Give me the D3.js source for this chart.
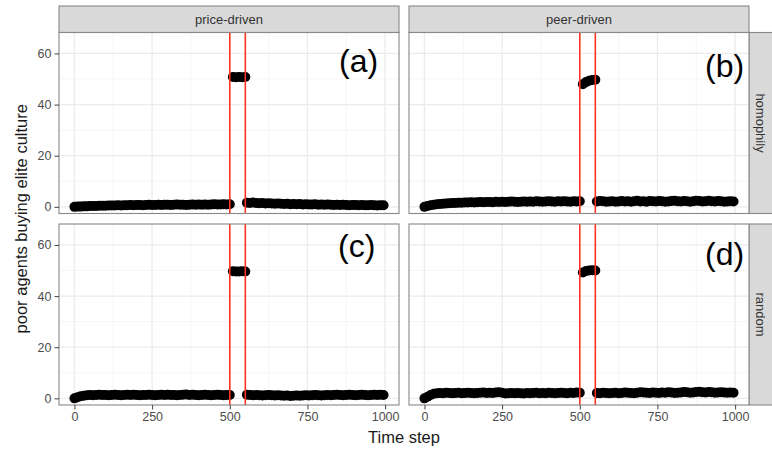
<!DOCTYPE html>
<html>
<head>
<meta charset="utf-8">
<script src="https://cdn.jsdelivr.net/npm/d3@7"></script>
<style>
  body { margin: 0; background: #fff; }
  svg { font-family: "Liberation Sans", Arial, sans-serif; }
</style>
</head>
<body>
<script>
// facets
var columns = ["price-driven", "peer-driven"];
var rows = ["homophily", "random"];
var tags = ["(a)", "(b)", "(c)", "(d)"];
var shockStart = 500, shockEnd = 550;

// time steps (sampled every 10 steps from the picture)
var stepsBefore = [0,10,20,30,40,50,60,70,80,90,100,110,120,130,140,150,160,170,180,190,
  200,210,220,230,240,250,260,270,280,290,300,310,320,330,340,350,360,370,380,390,
  400,410,420,430,440,450,460,470,480,490,500];
var stepsShock = [510,520,530,540,550];
var stepsAfter = [555,565,575,585,595,605,615,625,635,645,655,665,675,685,695,705,715,725,735,745,
  755,765,775,785,795,805,815,825,835,845,855,865,875,885,895,905,915,925,935,945,
  955,965,975,985,995];

// (a) price-driven / homophily
var priceHomophily = [
  0.0,0.1,0.1,0.2,0.2,0.3,0.3,0.3,0.4,0.4,
  0.4,0.5,0.5,0.5,0.6,0.5,0.6,0.6,0.7,0.6,
  0.7,0.7,0.6,0.7,0.8,0.7,0.7,0.8,0.7,0.8,
  0.8,0.7,0.8,0.9,0.8,0.8,0.7,0.8,0.9,0.8,
  0.9,0.8,0.9,0.8,0.9,1.0,0.9,0.9,1.0,0.9,
  1.0,
  50.8,50.7,50.8,50.7,50.8,
  1.6,1.5,1.7,1.5,1.4,1.5,1.3,1.4,1.3,1.2,
  1.3,1.2,1.1,1.2,1.0,1.1,1.0,1.1,0.9,1.0,
  0.9,0.9,1.0,0.8,0.9,0.8,0.9,0.8,0.7,0.8,
  0.7,0.8,0.7,0.6,0.7,0.7,0.6,0.7,0.6,0.6,
  0.7,0.6,0.5,0.6,0.6];

// (b) peer-driven / homophily
var peerHomophily = [
  0.0,0.3,0.6,0.8,1.0,1.1,1.2,1.3,1.4,1.5,
  1.5,1.6,1.6,1.7,1.7,1.8,1.7,1.8,1.9,1.8,
  1.9,1.9,1.8,2.0,1.9,2.0,1.9,2.0,2.1,2.0,
  1.9,2.0,2.1,2.0,2.1,2.0,2.2,2.1,2.0,2.1,
  2.2,2.1,2.0,2.2,2.1,2.2,2.1,2.0,2.2,2.1,
  2.2,
  48.0,48.8,49.3,49.6,49.7,
  2.1,2.3,2.2,2.0,2.1,2.2,2.0,2.1,2.3,2.1,
  2.2,2.0,2.2,2.4,2.1,2.2,2.0,2.3,2.2,2.1,
  2.3,2.2,2.0,2.1,2.3,2.4,2.2,2.1,2.3,2.2,
  2.0,2.2,2.4,2.3,2.1,2.2,2.4,2.2,2.1,2.3,
  2.2,2.0,2.1,2.2,2.1];

// (c) price-driven / random
var priceRandom = [
  0.0,0.4,0.8,1.0,1.2,1.3,1.2,1.3,1.4,1.3,
  1.3,1.2,1.3,1.4,1.3,1.2,1.3,1.4,1.3,1.4,
  1.3,1.2,1.3,1.3,1.4,1.3,1.2,1.3,1.4,1.3,
  1.4,1.3,1.3,1.2,1.3,1.4,1.5,1.3,1.4,1.3,
  1.2,1.3,1.4,1.3,1.2,1.3,1.4,1.3,1.2,1.3,
  1.3,
  49.7,49.6,49.6,49.7,49.6,
  1.4,1.3,1.2,1.3,1.2,1.1,1.2,1.3,1.2,1.1,
  1.2,1.1,1.0,1.1,0.9,1.0,1.1,1.0,1.1,1.2,
  1.1,1.2,1.3,1.2,1.1,1.2,1.3,1.2,1.3,1.4,
  1.3,1.2,1.3,1.4,1.3,1.2,1.3,1.4,1.3,1.2,
  1.3,1.4,1.3,1.4,1.3];

// (d) peer-driven / random
var peerRandom = [
  0.0,0.6,1.3,1.8,2.0,2.1,2.0,2.2,2.1,2.0,
  2.1,2.2,2.0,2.1,2.2,2.1,2.0,2.1,2.2,2.3,
  2.1,2.2,2.1,2.3,2.4,2.2,1.9,2.0,2.1,2.0,
  2.1,2.0,1.9,2.1,2.0,2.1,2.2,2.0,2.1,2.0,
  2.2,2.1,2.0,2.1,2.2,2.1,2.0,2.2,2.1,2.3,
  2.2,
  49.2,49.8,50.0,50.1,50.0,
  2.1,2.0,2.2,2.1,2.0,2.1,2.2,2.0,2.1,2.3,
  2.2,2.1,2.0,2.2,2.4,2.3,2.2,2.1,2.3,2.2,
  2.1,2.3,2.2,2.4,2.3,2.1,2.2,2.3,2.5,2.4,
  2.2,2.3,2.5,2.6,2.4,2.3,2.5,2.4,2.2,2.3,
  2.4,2.3,2.2,2.3,2.2];

var xTicks = [0, 250, 500, 750, 1000];
var yTicks = [0, 20, 40, 60];

var steps = stepsBefore.concat(stepsShock, stepsAfter);
var series = [priceHomophily, peerHomophily, priceRandom, peerRandom];

var width = 772, height = 452;
var colX = [59, 409], panelW = 340;
var rowY = [32.5, 224], panelH = 181;
var tagPos = [[339, 72], [705, 77], [338, 257], [705, 264.5]];

var svg = d3.select("body").append("svg")
  .attr("width", width)
  .attr("height", height);

svg.append("rect").attr("width", width).attr("height", height).attr("fill", "#fff");

var x = d3.scaleLinear().domain([-49.75, 1044.75]).range([0, panelW]);
var y = d3.scaleLinear().domain([-2.6, 68.2]).range([panelH, 0]);

// top strips
columns.forEach(function(c, j) {
  svg.append("rect")
    .attr("x", colX[j]).attr("y", 6)
    .attr("width", panelW).attr("height", rowY[0] - 6)
    .attr("fill", "#d9d9d9").attr("stroke", "#888").attr("stroke-width", 1.1);
  svg.append("text")
    .attr("x", colX[j] + panelW / 2).attr("y", 24)
    .attr("text-anchor", "middle")
    .attr("font-size", 13).attr("fill", "#333")
    .text(c);
});

// right strips
rows.forEach(function(r, i) {
  svg.append("rect")
    .attr("x", colX[1] + panelW).attr("y", rowY[i])
    .attr("width", 28).attr("height", panelH)
    .attr("fill", "#d9d9d9").attr("stroke", "#888").attr("stroke-width", 1.1);
  svg.append("text")
    .attr("transform", "translate(" + (colX[1] + panelW + 7) + "," + (rowY[i] + panelH / 2) + ") rotate(90)")
    .attr("text-anchor", "middle")
    .attr("font-size", 13).attr("fill", "#333")
    .text(r);
});

rows.forEach(function(r, i) {
  columns.forEach(function(c, j) {
    var k = i * 2 + j;
    var g = svg.append("g")
      .attr("transform", "translate(" + colX[j] + "," + rowY[i] + ")");

    g.append("rect").attr("width", panelW).attr("height", panelH).attr("fill", "#fff");

    // minor grid
    var xMinor = [125, 375, 625, 875], yMinor = [10, 30, 50];
    g.selectAll(".xm").data(xMinor).enter().append("line")
      .attr("x1", d => x(d)).attr("x2", d => x(d))
      .attr("y1", 0).attr("y2", panelH)
      .attr("stroke", "#f2f2f2").attr("stroke-width", 0.8);
    g.selectAll(".ym").data(yMinor).enter().append("line")
      .attr("x1", 0).attr("x2", panelW)
      .attr("y1", d => y(d)).attr("y2", d => y(d))
      .attr("stroke", "#f2f2f2").attr("stroke-width", 0.8);
    // major grid
    g.selectAll(".xg").data(xTicks).enter().append("line")
      .attr("x1", d => x(d)).attr("x2", d => x(d))
      .attr("y1", 0).attr("y2", panelH)
      .attr("stroke", "#ebebeb").attr("stroke-width", 1.3);
    g.selectAll(".yg").data(yTicks).enter().append("line")
      .attr("x1", 0).attr("x2", panelW)
      .attr("y1", d => y(d)).attr("y2", d => y(d))
      .attr("stroke", "#ebebeb").attr("stroke-width", 1.3);

    // points
    g.selectAll("circle").data(series[k]).enter().append("circle")
      .attr("cx", (d, n) => x(steps[n]))
      .attr("cy", d => y(d))
      .attr("r", 5)
      .attr("fill", "#000");

    // shock window
    g.selectAll(".vl").data([shockStart, shockEnd]).enter().append("line")
      .attr("x1", d => x(d)).attr("x2", d => x(d))
      .attr("y1", 0).attr("y2", panelH)
      .attr("stroke", "#ff3322").attr("stroke-width", 1.6);

    g.append("rect").attr("width", panelW).attr("height", panelH)
      .attr("fill", "none").attr("stroke", "#888").attr("stroke-width", 1.1);

    g.append("text")
      .attr("x", tagPos[k][0] - colX[j]).attr("y", tagPos[k][1] - rowY[i])
      .attr("font-size", 32).attr("fill", "#000")
      .text(tags[k]);

    // axes
    if (j == 0) {
      var ya = g.append("g").call(d3.axisLeft(y).tickValues(yTicks).tickSize(4.5).tickPadding(3));
      ya.select(".domain").remove();
      ya.selectAll("line").attr("stroke", "#444");
      ya.selectAll("text").attr("font-size", 12.5).attr("fill", "#4d4d4d")
        .attr("font-family", "Liberation Sans, Arial, sans-serif");
    }
    if (i == 1) {
      var xa = g.append("g").attr("transform", "translate(0," + panelH + ")")
        .call(d3.axisBottom(x).tickValues(xTicks).tickFormat(d3.format("d")).tickSize(4.5).tickPadding(3));
      xa.select(".domain").remove();
      xa.selectAll("line").attr("stroke", "#444");
      xa.selectAll("text").attr("font-size", 12.5).attr("fill", "#4d4d4d")
        .attr("font-family", "Liberation Sans, Arial, sans-serif");
    }
  });
});

svg.append("text")
  .attr("x", (colX[0] + colX[1] + panelW) / 2).attr("y", 443)
  .attr("text-anchor", "middle")
  .attr("font-size", 16.5).attr("fill", "#1a1a1a")
  .text("Time step");

svg.append("text")
  .attr("transform", "translate(27," + ((rowY[0] + rowY[1] + panelH) / 2) + ") rotate(-90)")
  .attr("text-anchor", "middle")
  .attr("font-size", 16.5).attr("fill", "#1a1a1a")
  .text("poor agents buying elite culture");
</script>
</body>
</html>
